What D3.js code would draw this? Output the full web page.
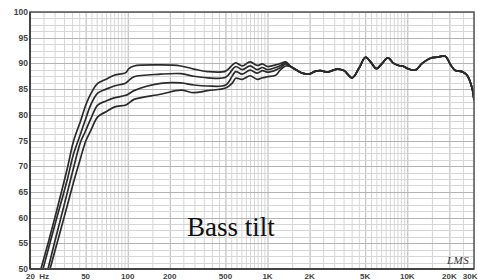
<!DOCTYPE html>
<html><head><meta charset="utf-8">
<script src="https://cdn.jsdelivr.net/npm/d3@7"></script>
<style>body{margin:0;background:#fff;}svg{display:block;}</style>
</head><body>
<script>
// ---- data ----
const freqs = [22, 24, 27, 30, 33, 37, 41, 46, 50, 55, 61, 70, 80, 97, 102, 111, 172, 240, 297, 372, 502, 561, 593, 661, 750, 845, 918, 998, 1143, 1241, 1348];
const curve1 = [46.2,50.1,55.1,59.8,64.2,69.6,74.9,78.8,81.8,84.3,86.1,86.9,87.7,88.2,89.0,89.5,89.7,89.5,88.9,88.4,88.5,89.7,90.1,89.5,90.3,89.6,89.9,89.4,89.7,90.0,90.3];
const curve2 = [44.9,48.6,53.8,58.4,62.5,67.4,72.4,76.3,79.2,82.2,84.2,85.0,85.6,86.2,86.7,87.4,87.9,88.0,87.5,87.2,87.3,88.8,89.4,88.8,89.5,88.8,89.2,88.8,89.2,89.6,90.1];
const curve3 = [41.5,45.2,50.2,55.2,59.6,64.9,69.7,74.7,76.9,79.5,81.9,82.7,83.3,83.8,84.1,84.7,86.1,86.2,85.8,85.6,85.8,87.6,88.4,87.9,88.7,88.1,88.6,88.3,88.7,89.2,89.9];
const curve4 = [39.9,43.7,48.7,53.3,57.4,62.4,66.9,71.6,74.8,77.2,79.6,80.6,81.5,81.9,82.3,83.0,84.0,84.8,84.3,84.7,85.2,86.2,87.1,86.9,87.6,86.9,87.2,87.4,87.7,88.8,89.5];
// shared upper range where all four curves coincide
const hfFreqs = [1463, 1634, 1775, 1977, 2208, 2398, 2676, 2900, 3154, 3517, 4035, 4500, 5024, 5457, 6019, 6611, 7248, 8000, 8685, 9437, 10240, 11430, 12770, 14630, 16330, 18720, 20330, 22080, 24670, 26760, 29060, 30000];
const hfLevels = [89.4, 88.6, 88.1, 87.9, 88.5, 88.6, 88.3, 88.6, 88.9, 88.6, 87.2, 89.0, 91.2, 90.3, 89.0, 90.0, 91.1, 90.0, 89.6, 89.4, 88.9, 88.7, 90.0, 91.0, 91.2, 91.4, 89.8, 88.6, 88.4, 87.7, 85.2, 82.8];
const yTicks = [100, 95, 90, 85, 80, 75, 70, 65, 60, 55, 50];
const xTickVals = [20, 50, 100, 200, 500, 1000, 2000, 5000, 10000, 20000, 30000];
const xTickLabels = ["20  Hz", "50", "100", "200", "500", "1K", "2K", "5K", "10K", "20K", "30K"];

// ---- layout ----
const W = 478, H = 280;
const L = 30, R = 474, T = 12, B = 269;
const svg = d3.select("body").append("svg").attr("width", W).attr("height", H);
const x = d3.scaleLog().domain([20, 30000]).range([L, R]);
const y = d3.scaleLinear().domain([50, 100]).range([B, T]);

// grid
const vLines = [];
[10, 100, 1000, 10000].forEach(d => {
  for (let m = 1; m < 10; m += 0.5) {
    const f = Math.round(d * m);
    if (f >= 20 && f <= 30000) vLines.push(f);
  }
});
vLines.push(30000);
const majorV = new Set([50, 100, 200, 500, 1000, 2000, 5000, 10000, 20000]);
svg.append("g").selectAll("line").data(vLines).join("line")
  .attr("x1", d => x(d) + 0.5).attr("x2", d => x(d) + 0.5)
  .attr("y1", T).attr("y2", B)
  .attr("stroke", d => majorV.has(d) ? "#b4b4b4" : "#d6d6d6").attr("stroke-width", 1);
const hLines = d3.range(50, 100.01, 1.25);
svg.append("g").selectAll("line").data(hLines).join("line")
  .attr("x1", L).attr("x2", R)
  .attr("y1", d => Math.round(y(d)) + 0.5).attr("y2", d => Math.round(y(d)) + 0.5)
  .attr("stroke", d => (d % 5 === 0) ? "#b4b4b4" : "#d6d6d6").attr("stroke-width", 1);

// curves
svg.append("clipPath").attr("id", "clip").append("rect")
  .attr("x", L).attr("y", T).attr("width", R - L).attr("height", B - T);
const line = d3.line().x(d => x(d[0])).y(d => y(d[1])).curve(d3.curveCatmullRom.alpha(0.5));
const series = [curve1, curve2, curve3, curve4].map(c =>
  freqs.map((f, i) => [f, c[i]]).concat(hfFreqs.map((f, i) => [f, hfLevels[i]])));
svg.append("g").attr("clip-path", "url(#clip)").selectAll("path").data(series).join("path")
  .attr("d", line).attr("fill", "none").attr("stroke", "#2b2b2b").attr("stroke-width", 1.7)
  .attr("stroke-linejoin", "round");

// frame
svg.append("rect").attr("x", L).attr("y", T).attr("width", R - L).attr("height", B - T)
  .attr("fill", "none").attr("stroke", "#555").attr("stroke-width", 1.5);
svg.append("line").attr("x1", L).attr("x2", R).attr("y1", B).attr("y2", B).attr("stroke", "#444").attr("stroke-width", 2);
svg.append("line").attr("x1", L).attr("x2", L).attr("y1", T).attr("y2", B).attr("stroke", "#444").attr("stroke-width", 2);

// y labels
svg.append("g").selectAll("text").data(yTicks).join("text")
  .attr("x", 28).attr("y", d => y(d) + 3)
  .attr("text-anchor", "end").attr("font-family", "Liberation Sans, Arial, sans-serif")
  .attr("font-weight", "bold").attr("font-size", 8.5).attr("fill", "#444")
  .text(d => d);

// x labels
const nX = xTickVals.length;
svg.append("g").selectAll("text").data(xTickVals).join("text")
  .attr("x", (d, i) => i === 0 ? 26 : (i === nX - 1 ? 477.5 : x(d)))
  .attr("y", 279)
  .attr("text-anchor", (d, i) => i === 0 ? "start" : (i === nX - 1 ? "end" : "middle"))
  .attr("font-family", "Liberation Sans, Arial, sans-serif")
  .attr("font-weight", "bold").attr("font-size", 8).attr("fill", "#444")
  .attr("xml:space", "preserve").style("white-space", "pre")
  .text((d, i) => xTickLabels[i]);

// annotation
svg.append("text").attr("x", 187).attr("y", 236)
  .attr("font-family", "Liberation Serif, Times New Roman, serif").attr("font-size", 27)
  .attr("fill", "#111").text("Bass tilt");
svg.append("text").attr("x", 447).attr("y", 264)
  .attr("font-family", "Liberation Serif, serif").attr("font-style", "italic")
  .attr("font-size", 11).attr("fill", "#333").attr("letter-spacing", 0.5).text("LMS");
</script>
</body></html>
